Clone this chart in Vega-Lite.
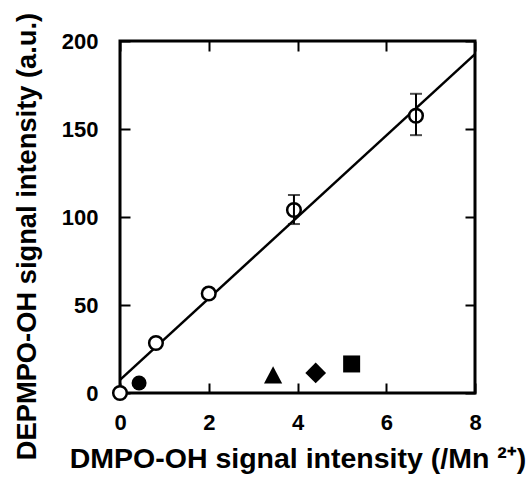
{
  "$schema": "https://vega.github.io/schema/vega-lite/v6.json",
  "width": 355,
  "height": 352,
  "autosize": {"type": "none"},
  "padding": {"left": 120, "top": 41, "right": 51, "bottom": 92},
  "background": "white",
  "config": {
    "view": {"stroke": "black", "strokeWidth": 3}
  },
  "datasets": {
    "open": [
      {"dmpo": 0, "depmpo": 0},
      {"dmpo": 0.81, "depmpo": 28.4},
      {"dmpo": 2.0, "depmpo": 56.5},
      {"dmpo": 3.92, "depmpo": 104},
      {"dmpo": 6.67, "depmpo": 157.5}
    ],
    "err": [
      {"dmpo": 3.92, "lo": 96, "hi": 112.5},
      {"dmpo": 6.67, "lo": 146.5, "hi": 170}
    ],
    "filled": [
      {"dmpo": 0.43, "depmpo": 5.7, "sample": "A"},
      {"dmpo": 3.45, "depmpo": 10, "sample": "B"},
      {"dmpo": 4.41, "depmpo": 11.4, "sample": "C"},
      {"dmpo": 5.22, "depmpo": 16.5, "sample": "D"}
    ],
    "fit": [
      {"dmpo": 0, "depmpo": 7.5},
      {"dmpo": 8, "depmpo": 192.5}
    ]
  },
  "layer": [
    {
      "layer": [
        {
          "data": {"name": "fit"},
          "mark": {"type": "line", "color": "black", "strokeWidth": 2.5},
          "encoding": {
            "x": {
              "field": "dmpo", "type": "quantitative",
              "scale": {"domain": [0, 8], "nice": false},
              "axis": {
                "orient": "bottom",
                "values": [0, 2, 4, 6, 8],
                "domain": false,
                "grid": false,
                "tickSize": -10,
                "tickColor": "black",
                "tickWidth": 2,
                "labelPadding": 29,
                "labelFont": "Liberation Sans",
                "labelFontWeight": "bold",
                "labelFontSize": 22,
                "labelColor": "black",
                "labelFlush": false,
                "labelOverlap": false,
                "title": "DMPO-OH signal intensity (/Mn ²⁺)",
                "titleFont": "Liberation Sans",
                "titleFontWeight": "bold",
                "titleColor": "black",
                "titleFontSize": 28.5,
                "titleX": 177.5,
                "titleY": 74,
                "titleAlign": "center",
                "titleBaseline": "alphabetic"
              }
            },
            "y": {
              "field": "depmpo", "type": "quantitative",
              "scale": {"domain": [0, 200], "nice": false},
              "axis": {
                "orient": "left",
                "values": [0, 50, 100, 150, 200],
                "domain": false,
                "grid": false,
                "tickSize": -10,
                "tickColor": "black",
                "tickWidth": 2,
                "labelPadding": 32,
                "labelFont": "Liberation Sans",
                "labelFontWeight": "bold",
                "labelFontSize": 22,
                "labelColor": "black",
                "labelFlush": false,
                "labelOverlap": false,
                "title": "DEPMPO-OH signal intensity (a.u.)",
                "titleFont": "Liberation Sans",
                "titleFontWeight": "bold",
                "titleColor": "black",
                "titleFontSize": 27.3,
                "titleX": -85,
                "titleY": 195,
                "titleAlign": "center",
                "titleBaseline": "alphabetic"
              }
            }
          }
        },
        {
          "data": {"name": "err"},
          "mark": {"type": "tick", "orient": "horizontal", "color": "black", "size": 12, "thickness": 2},
          "encoding": {
            "x": {"field": "dmpo", "type": "quantitative"},
            "y": {"field": "lo", "type": "quantitative"}
          }
        },
        {
          "data": {"name": "err"},
          "mark": {"type": "tick", "orient": "horizontal", "color": "black", "size": 12, "thickness": 2},
          "encoding": {
            "x": {"field": "dmpo", "type": "quantitative"},
            "y": {"field": "hi", "type": "quantitative"}
          }
        },
        {
          "data": {"name": "open"},
          "mark": {"type": "point", "shape": "circle", "filled": false, "fill": "white", "fillOpacity": 1, "stroke": "black", "strokeWidth": 2.5, "opacity": 1, "size": 185},
          "encoding": {
            "x": {"field": "dmpo", "type": "quantitative"},
            "y": {"field": "depmpo", "type": "quantitative"}
          }
        },
        {
          "data": {"name": "filled"},
          "transform": [{"filter": "datum.sample === 'A'"}],
          "mark": {"type": "point", "shape": "circle", "filled": true, "color": "black", "opacity": 1, "size": 225},
          "encoding": {
            "x": {"field": "dmpo", "type": "quantitative"},
            "y": {"field": "depmpo", "type": "quantitative"}
          }
        },
        {
          "data": {"name": "filled"},
          "transform": [{"filter": "datum.sample === 'B'"}],
          "mark": {"type": "point", "shape": "M0,-1L1,0.9L-1,0.9Z", "filled": true, "color": "black", "opacity": 1, "size": 330},
          "encoding": {
            "x": {"field": "dmpo", "type": "quantitative"},
            "y": {"field": "depmpo", "type": "quantitative"}
          }
        },
        {
          "data": {"name": "filled"},
          "transform": [{"filter": "datum.sample === 'C'"}],
          "mark": {"type": "point", "shape": "diamond", "filled": true, "color": "black", "opacity": 1, "size": 430},
          "encoding": {
            "x": {"field": "dmpo", "type": "quantitative"},
            "y": {"field": "depmpo", "type": "quantitative"}
          }
        },
        {
          "data": {"name": "filled"},
          "transform": [{"filter": "datum.sample === 'D'"}],
          "mark": {"type": "point", "shape": "square", "filled": true, "color": "black", "opacity": 1, "size": 289},
          "encoding": {
            "x": {"field": "dmpo", "type": "quantitative"},
            "y": {"field": "depmpo", "type": "quantitative"}
          }
        }
      ]
    },
    {
      "data": {"name": "err"},
      "mark": {"type": "rule", "color": "black", "strokeWidth": 2},
      "encoding": {
        "x": {"field": "dmpo", "type": "quantitative", "axis": {"orient": "top", "values": [0, 2, 4, 6, 8], "domain": false, "grid": false, "tickSize": -10, "tickColor": "black", "tickWidth": 2, "labels": false, "title": null}},
        "y": {"field": "lo", "type": "quantitative", "axis": {"orient": "right", "values": [0, 50, 100, 150, 200], "domain": false, "grid": false, "tickSize": -10, "tickColor": "black", "tickWidth": 2, "labels": false, "title": null}},
        "y2": {"field": "hi"}
      }
    }
  ],
  "resolve": {"axis": {"x": "independent", "y": "independent"}}
}
